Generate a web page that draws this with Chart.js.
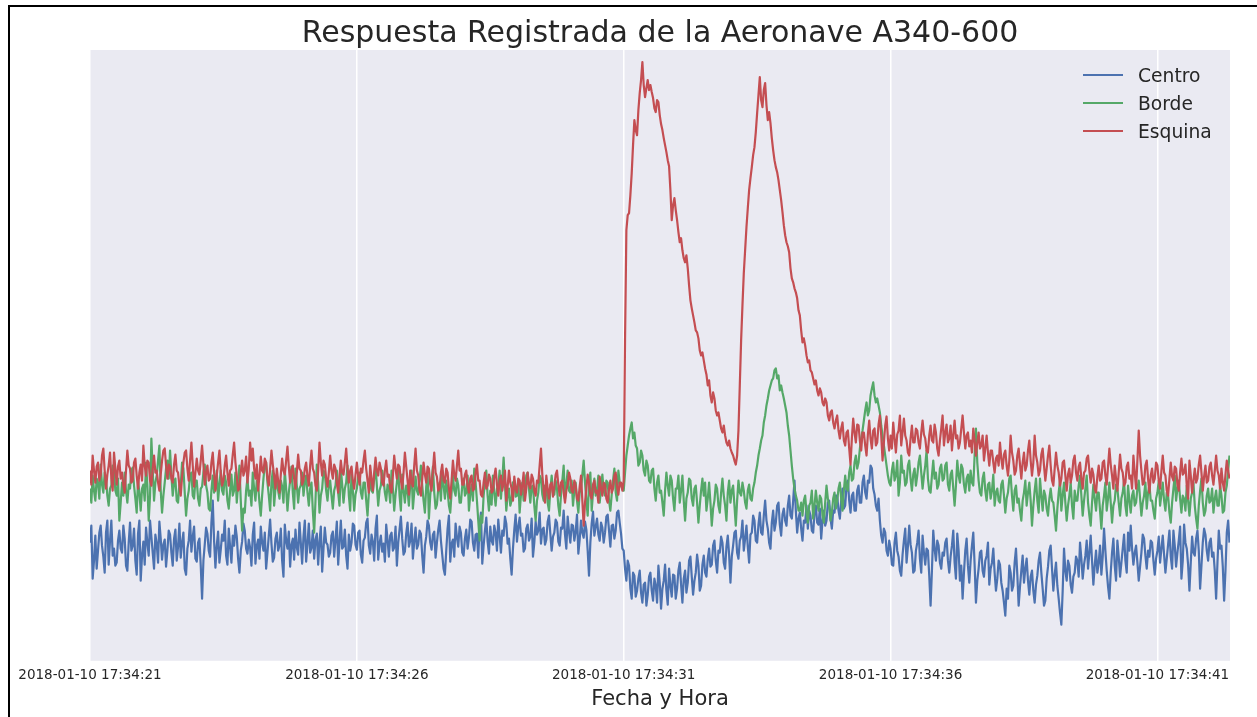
<!DOCTYPE html>
<html><head><meta charset="utf-8">
<script src="https://cdn.jsdelivr.net/npm/chart.js@4"></script>
<style>
html,body{margin:0;padding:0;background:#fff;}
#wrap{position:relative;width:1257px;height:717px;overflow:hidden;}
#frame{position:absolute;left:8px;top:5px;right:-10px;bottom:-10px;border-left:2px solid #000;border-top:2px solid #000;pointer-events:none;}
canvas{position:absolute;left:0;top:0;}
</style></head><body>
<div id="wrap"><canvas id="c" width="1257" height="717"></canvas><div id="frame"></div></div>
<script>
const titleText = 'Respuesta Registrada de la Aeronave A340-600';
const xTitle = 'Fecha y Hora';
const seriesNames = ['Centro', 'Borde', 'Esquina'];
const startSecond = 21;      // 2018-01-10 17:34:21
const sampleStep = 0.025;    // seconds between samples
const tickSeconds = [21, 26, 31, 36, 41];
const tickLabels = ['2018-01-10 17:34:21', '2018-01-10 17:34:26', '2018-01-10 17:34:31', '2018-01-10 17:34:36', '2018-01-10 17:34:41'];

const centro = [
118,135,82,100,125,92,110,128,135,115,104,88,128,140,96,120,140,105,112,95,
98,120,130,112,108,135,122,95,90,118,138,110,115,132,100,86,127,140,80,105,
119,96,133,118,105,140,124,108,92,126,117,98,139,122,101,116,121,94,110,130,
126,108,95,122,131,100,114,137,103,118,128,92,86,112,120,140,109,124,134,102,
99,118,122,95,62,100,116,133,127,110,104,138,160,120,93,115,129,98,111,126,
120,140,105,96,132,114,98,125,115,135,124,102,88,110,119,137,130,112,107,121,
113,95,126,138,97,115,121,102,134,118,110,128,92,108,125,141,117,99,103,122,
128,110,115,132,100,84,136,120,112,129,94,116,122,101,131,113,106,138,118,97,
124,140,99,117,137,108,113,130,102,121,127,96,119,134,89,112,133,118,116,104,
108,125,129,104,121,139,96,118,140,112,114,131,105,92,126,110,118,137,135,116,
111,128,130,106,98,120,123,138,142,115,107,126,119,100,132,145,101,117,125,109,
117,99,136,121,104,125,128,110,113,134,95,118,131,144,122,106,109,127,138,114,
120,137,102,119,133,112,116,130,127,105,88,115,124,140,135,118,111,126,129,103,
118,131,140,120,106,92,86,110,132,145,99,117,121,104,137,123,114,134,128,108,
105,122,131,112,123,141,139,118,110,126,127,103,135,148,97,115,130,143,119,107,
134,120,116,135,128,110,141,125,108,130,125,144,137,117,122,102,86,112,131,146,
119,134,143,125,127,109,112,132,136,120,124,142,104,118,139,126,130,148,117,131,
133,116,121,139,145,127,110,124,128,141,138,119,115,133,132,150,126,112,144,129,
118,136,135,120,129,146,107,121,140,128,123,139,131,110,85,118,137,149,125,134,
142,126,120,138,133,118,128,144,146,130,114,135,136,122,130,148,150,138,127,112,
110,92,80,100,95,72,62,88,85,64,70,82,90,68,58,76,78,55,66,84,
88,70,60,82,75,58,95,78,52,72,80,96,70,56,92,75,64,86,85,62,
72,90,98,76,58,82,90,68,78,100,104,84,66,80,88,106,95,70,75,96,
105,88,84,102,112,94,96,115,120,100,88,110,108,124,118,98,92,114,125,106,
78,104,115,128,130,108,102,120,124,140,110,122,135,114,98,126,128,145,140,120,
118,136,148,128,126,145,160,140,132,118,112,138,150,130,138,155,158,136,125,146,
152,140,135,155,165,145,142,160,180,150,128,142,148,132,120,140,138,155,132,150,
145,130,128,148,155,138,136,152,122,140,150,135,140,158,160,142,132,150,148,165,
165,150,142,160,172,152,155,175,180,160,148,165,168,150,150,170,175,158,158,178,
185,168,162,180,178,195,192,172,166,155,150,162,140,125,118,132,128,110,105,120,
112,96,95,118,128,110,104,90,85,106,120,132,98,114,135,116,108,88,90,110,
118,130,102,88,125,108,96,112,110,85,55,90,130,112,100,120,115,98,92,108,
105,118,122,100,88,104,115,130,98,82,127,110,80,95,62,88,110,122,95,78,
100,115,128,96,58,80,92,108,110,90,84,100,105,118,76,92,98,112,88,70,
82,100,96,78,70,58,45,72,62,95,88,70,75,98,112,86,55,74,90,105,
78,92,102,80,66,84,90,70,58,76,85,100,108,88,72,55,60,82,94,110,
115,92,70,86,98,75,62,48,36,70,112,90,80,100,95,76,68,84,88,104,
100,84,118,102,82,96,105,120,92,108,125,100,76,95,110,88,98,115,86,104,
132,110,90,74,62,88,108,122,95,80,120,104,84,98,112,126,100,88,128,110,
135,112,96,108,115,98,80,94,108,126,122,105,92,110,104,120,118,100,86,102,
110,124,98,112,125,106,88,102,116,130,104,92,130,115,94,108,120,134,82,100,
136,118,112,96,70,98,124,108,105,122,130,110,72,95,118,132,126,110,100,118,
122,104,108,90,62,98,130,112,115,94,60,90,128,140,118
];

const borde = [
172,158,185,170,160,182,178,162,196,176,168,188,182,165,155,172,175,195,190,170,
165,182,140,158,178,165,188,170,158,176,172,190,193,175,162,148,180,168,150,172,
176,160,198,175,140,165,222,190,160,178,185,200,215,170,148,165,178,192,200,182,
210,185,165,178,182,160,158,176,175,198,192,168,145,162,170,185,188,165,162,180,
180,162,155,172,174,188,196,175,168,152,150,170,185,168,172,190,160,176,190,170,
166,185,178,160,152,170,186,165,170,188,158,176,195,160,130,152,148,170,182,165,
170,155,188,172,160,180,176,158,145,165,182,196,198,178,165,150,178,190,155,172,
186,170,162,180,174,158,190,172,150,168,180,194,168,152,192,175,158,172,175,188,
165,178,185,168,155,172,178,150,128,160,196,178,148,165,172,190,188,170,160,176,
180,165,152,170,175,190,168,155,192,176,158,172,178,195,165,150,186,170,150,166,
172,186,188,168,162,178,178,160,145,168,185,170,168,182,195,175,155,170,175,190,
182,168,160,176,172,158,190,172,150,166,178,192,165,150,186,170,158,175,170,155,
176,190,152,168,184,170,166,180,195,175,160,148,174,188,142,165,180,194,168,152,
156,172,178,160,190,175,162,180,170,155,148,168,185,170,165,182,175,158,158,175,
182,165,168,185,150,166,176,160,192,178,160,140,120,145,138,165,178,190,165,150,
170,156,185,168,155,172,175,190,162,180,203,176,150,165,172,155,160,178,180,164,
165,180,148,166,178,160,170,185,188,172,158,174,175,155,140,160,168,185,182,166,
160,175,176,158,150,170,185,168,166,180,172,155,145,166,180,195,162,176,190,170,
168,180,155,170,178,160,148,168,172,186,200,178,160,145,176,188,150,168,182,165,
170,185,158,172,186,170,165,180,178,160,150,166,180,192,168,160,190,178,175,172,
170,188,205,215,225,232,238,222,228,215,212,195,198,210,205,190,185,200,195,180,
178,190,192,172,160,178,185,168,170,158,145,170,188,175,165,185,180,162,150,172,
172,185,158,170,185,160,140,162,168,182,180,162,155,172,175,158,138,155,170,182,
165,178,150,162,178,158,135,152,160,176,172,155,148,168,182,165,155,140,168,180,
158,170,175,155,135,160,180,168,165,178,170,158,152,170,176,162,160,172,178,188,
195,205,212,220,225,238,245,255,262,270,275,280,282,290,292,282,285,270,275,268,
262,255,248,235,225,210,195,182,172,165,160,150,150,158,145,160,165,148,138,155,
158,170,142,155,170,158,150,165,162,145,138,158,175,162,155,140,148,162,168,152,
160,172,178,162,150,170,185,172,170,188,195,180,182,198,205,192,198,212,222,230,
240,250,258,245,250,265,272,278,265,258,262,255,248,235,225,215,205,195,185,178,
175,190,198,180,185,200,165,178,205,188,190,175,178,195,200,182,170,186,192,175,
185,198,205,188,172,185,195,210,182,170,168,185,200,182,188,172,176,192,196,180,
182,195,198,176,170,186,190,172,155,175,200,185,178,196,192,176,168,182,186,170,
190,178,175,205,232,198,180,168,165,182,188,170,160,176,178,162,170,186,155,168,
172,160,158,176,180,165,148,162,168,182,185,165,150,170,175,158,162,150,140,160,
168,180,155,168,178,160,135,155,170,182,160,148,182,165,150,170,165,152,145,162,
172,160,158,145,130,152,168,180,150,165,178,158,140,155,165,178,155,142,170,160,
160,175,185,165,145,160,172,185,158,145,135,158,176,162,150,168,168,150,132,155,
165,178,150,162,178,158,138,155,160,176,172,158,145,162,168,180,155,145,175,160,
148,165,170,155,158,172,180,162,145,158,165,178,152,168,176,160,160,150,142,162,
168,180,155,166,178,160,150,168,165,148,138,158,172,185,160,172,180,162,148,165,
162,150,175,160,145,162,168,178,155,142,132,155,170,182,158,145,150,165,172,158,
160,172,148,162,170,155,155,175,165,148,150,168,175,190,205
];

const esquina = [
190,176,205,190,178,194,198,180,185,205,212,190,172,186,195,208,182,170,208,192,
176,194,200,182,188,175,168,190,210,195,192,178,180,198,202,185,172,188,196,180,
215,195,185,200,198,180,175,192,205,188,190,178,170,186,200,210,212,195,182,196,
194,182,178,196,206,190,188,175,165,184,198,208,210,192,180,200,218,195,174,188,
202,190,186,200,215,196,176,188,195,180,182,198,208,188,170,185,198,210,188,175,
180,195,205,188,175,190,192,206,218,198,185,170,172,188,200,185,190,204,178,192,
218,200,212,192,182,196,170,185,204,190,188,202,198,182,175,192,210,196,185,172,
192,180,168,186,202,190,186,200,214,194,178,190,195,182,172,188,206,192,190,176,
180,192,198,184,175,195,210,192,188,175,170,190,218,198,185,200,196,182,174,188,
205,190,182,196,192,178,168,185,200,188,186,198,212,192,178,190,194,180,172,186,
198,185,176,192,188,200,210,192,180,168,195,182,170,188,203,190,185,198,192,178,
175,190,200,184,186,172,168,185,205,192,182,196,194,180,172,188,208,194,180,166,
190,178,174,195,212,190,185,170,165,182,198,186,178,194,192,176,170,190,208,188,
184,170,172,188,196,180,178,192,188,172,162,180,200,186,180,195,210,190,192,176,
176,186,190,174,168,182,185,170,172,188,196,180,180,166,164,178,188,172,175,186,
182,168,170,184,192,176,165,180,185,170,178,190,160,174,190,178,172,160,184,172,
168,182,180,166,175,188,160,172,188,176,172,186,182,170,165,180,178,195,212,186,
170,158,185,172,162,176,178,164,174,186,190,176,165,178,180,168,158,170,176,188,
182,170,168,180,175,162,160,174,185,160,135,158,172,186,178,165,162,176,180,168,
170,158,184,172,165,178,176,162,158,172,180,168,172,185,188,174,166,178,178,170,
180,320,430,445,447,465,487,515,540,530,525,550,567,580,598,575,563,572,580,570,
575,568,562,552,548,560,558,545,536,530,522,515,508,500,494,470,440,455,462,450,
440,428,418,422,410,402,398,405,392,375,360,352,345,338,330,328,322,310,305,308,
300,292,286,275,280,265,258,268,262,250,245,248,240,232,228,235,225,218,215,220,
212,208,205,200,196,205,230,275,320,355,387,410,433,452,470,482,493,505,513,528,
547,565,583,560,553,570,577,555,540,548,537,522,510,500,493,488,480,470,460,448,
435,425,418,414,408,392,382,378,372,368,362,350,345,330,318,322,315,305,298,300,
290,288,282,276,280,270,265,272,268,258,255,262,258,245,240,248,250,238,232,240,
245,230,222,232,238,220,215,228,230,212,196,222,242,228,218,236,235,220,210,228,
228,215,205,226,240,222,212,230,232,215,218,236,245,225,200,218,235,244,222,210,
225,212,238,222,208,226,230,245,215,228,242,225,220,208,205,222,235,218,218,232,
230,218,212,228,240,226,222,210,208,225,235,220,218,236,228,212,205,220,232,245,
215,228,236,218,222,235,210,226,240,222,225,212,218,232,245,228,212,225,228,214,
220,208,232,220,205,218,228,212,215,225,200,212,225,208,195,210,210,198,188,202,
205,195,218,202,192,206,210,195,185,200,225,208,200,186,190,205,212,196,182,198,
208,190,195,210,220,200,185,198,225,205,198,185,190,206,212,195,180,192,205,215,
195,180,175,192,208,195,188,175,182,198,200,185,170,186,192,178,185,200,205,188,
180,194,198,182,172,188,190,202,205,190,178,192,186,172,168,184,195,180,182,198,
200,185,176,194,212,196,185,172,195,182,170,188,206,192,188,175,178,194,198,182,
185,172,205,188,172,200,230,205,190,176,178,195,200,182,168,185,192,178,182,198,
195,180,172,190,205,188,185,170,165,182,198,184,180,194,192,176,170,188,202,186,
188,196,175,162,200,185,168,180,192,178,182,196,205,188,170,184,195,178,180,194,
198,185,176,190,205,190,185,172,192,178,170,186,200,190,182
];

const seriesColors = ['#4C72B0', '#55A868', '#C44E52'];
const seriesValues = [centro, borde, esquina];

function toPoints(arr) {
  return arr.map((v, i) => ({ x: +(startSecond + i * sampleStep).toFixed(3), y: v }));
}

const bgPlugin = {
  id: 'bg',
  beforeDraw(chart) {
    const { ctx, chartArea: a } = chart;
    ctx.save();
    ctx.fillStyle = '#EAEAF2';
    ctx.fillRect(a.left, a.top, a.right - a.left, a.bottom - a.top);
    ctx.restore();
  }
};

const legendPlugin = {
  id: 'innerLegend',
  afterDatasetsDraw(chart) {
    const { ctx, chartArea: a } = chart;
    ctx.save();
    ctx.font = '18.7px "DejaVu Sans"';
    ctx.textBaseline = 'alphabetic';
    ctx.textAlign = 'left';
    const x0 = a.right - 147;
    chart.data.datasets.forEach((ds, k) => {
      const y = a.top + 25 + 28 * k;
      ctx.strokeStyle = ds.borderColor;
      ctx.lineWidth = 2;
      ctx.beginPath();
      ctx.moveTo(x0, y);
      ctx.lineTo(x0 + 40, y);
      ctx.stroke();
      ctx.fillStyle = '#262626';
      ctx.fillText(ds.label, x0 + 55, y + 6.8);
    });
    ctx.restore();
  }
};

new Chart(document.getElementById('c').getContext('2d'), {
  type: 'line',
  data: {
    datasets: seriesNames.map((name, k) => ({
      label: name,
      data: toPoints(seriesValues[k]),
      borderColor: seriesColors[k],
      backgroundColor: seriesColors[k],
      borderWidth: 2.2,
      borderJoinStyle: 'round',
      pointRadius: 0,
      tension: 0,
      fill: false,
      order: 3 - k
    }))
  },
  options: {
    responsive: false,
    animation: false,
    events: [],
    layout: { padding: { left: 90, right: 27, top: 0, bottom: 0 } },
    plugins: {
      legend: { display: false },
      tooltip: { enabled: false },
      title: {
        display: true,
        text: titleText,
        color: '#262626',
        font: { family: 'DejaVu Sans', size: 30, weight: 'normal', lineHeight: '32px' },
        padding: { top: 18, bottom: 0 }
      }
    },
    scales: {
      x: {
        type: 'linear',
        min: 21,
        max: 42.36,
        afterBuildTicks(scale) { scale.ticks = tickSeconds.map(v => ({ value: v })); },
        ticks: {
          autoSkip: false, maxRotation: 0, minRotation: 0, padding: 6.5,
          color: '#262626',
          font: { family: 'DejaVu Sans', size: 13.5, lineHeight: 1.2 },
          callback: (v, i) => tickLabels[i]
        },
        grid: { color: '#ffffff', lineWidth: 1.5, drawTicks: false },
        border: { display: false },
        title: {
          display: true, text: xTitle, color: '#262626',
          font: { family: 'DejaVu Sans', size: 21, lineHeight: '19px' },
          padding: { top: 0, bottom: 8 }
        }
      },
      y: { display: false, min: 0, max: 610 }
    }
  },
  plugins: [bgPlugin, legendPlugin]
});
</script>
</body></html>
